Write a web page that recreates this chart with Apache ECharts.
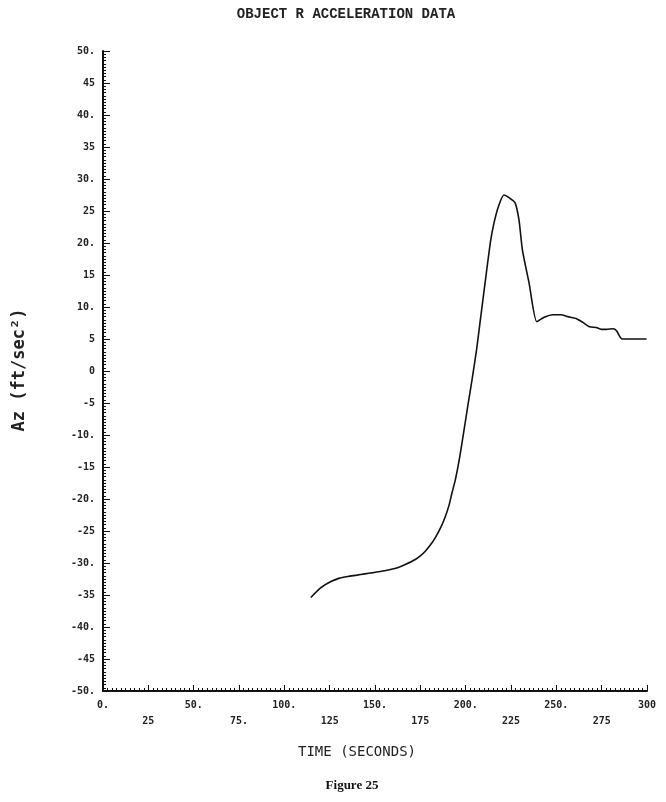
<!DOCTYPE html>
<html><head><meta charset="utf-8">
<script src="https://cdn.jsdelivr.net/npm/echarts@6/dist/echarts.min.js"></script>
<style>html,body{margin:0;padding:0;background:#fff}#c{width:666px;height:802px}</style>
</head><body><div id="c"></div>
<script>
// Data (time in seconds, Az in ft/sec^2)
const timeS = [114.6,120,125.7,130,135,140,144.3,149,153.5,158,162.8,167,172,175,177.6,180.5,183.1,186,188.7,190.8,192.4,194.3,196.5,198.9,201.2,203.5,206,208.1,210.9,213.7,215.6,218.3,221.1,223.9,227.2,229.4,231.3,235,239.2,243.3,248,252.6,256.3,260.9,264.6,268.3,272,274.8,277.6,281.3,283.2,286.3,299.8];
const azVals = [-35.4,-33.9,-32.9,-32.4,-32.1,-31.9,-31.7,-31.5,-31.3,-31.05,-30.7,-30.2,-29.5,-28.9,-28.2,-27.2,-26.1,-24.6,-22.8,-21.0,-19.1,-17.0,-13.8,-9.6,-5.4,-1.4,3.3,8.0,14.2,20.2,23.1,25.9,27.5,27.1,26.3,23.6,18.9,13.7,7.7,8.4,8.8,8.8,8.5,8.2,7.6,6.9,6.8,6.5,6.5,6.6,6.3,5.0,5.0];
const yTickLabels = {50:'50.',45:'45',40:'40.',35:'35',30:'30.',25:'25',20:'20.',15:'15',10:'10.',5:'5',0:'0','-5':'-5','-10':'-10.','-15':'-15','-20':'-20.','-25':'-25','-30':'-30.','-35':'-35','-40':'-40.','-45':'-45','-50':'-50.'};
const xTickLabelsRow1 = {0:'0.',50:'50.',100:'100.',150:'150.',200:'200.',250:'250.',300:'300'};
const xTickLabelsRow2 = {25:'25',75:'75.',125:'125',175:'175',225:'225',275:'275'};
const titleText = 'OBJECT R ACCELERATION DATA';
const xName = 'TIME (SECONDS)';
const yName = 'Az (ft/sec²)';
const caption = 'Figure 25';

const chart = echarts.init(document.getElementById('c'), null, {renderer:'canvas'});
const ink = '#111';
const tickFont = {fontFamily:'DejaVu Sans Mono', fontSize:10, fontWeight:'bold', color:'#222'};
const xCommon = {type:'value', min:0, max:300, interval:25, gridIndex:0, position:'bottom', splitLine:{show:false}};
chart.setOption({
  animation:false,
  backgroundColor:'#fff',
  grid:{left:103, top:51, width:544, height:640, containLabel:false},
  xAxis:[
    Object.assign({}, xCommon, {
      axisLine:{show:true, onZero:false, lineStyle:{color:ink, width:2}},
      axisTick:{show:true, inside:true, length:6, lineStyle:{color:ink, width:1}},
      minorTick:{show:true, splitNumber:10, length:3, lineStyle:{color:ink, width:1}},
      axisLabel:Object.assign({margin:9, formatter:v=> (xTickLabelsRow1[v]!==undefined? xTickLabelsRow1[v] : '')}, tickFont)
    }),
    Object.assign({}, xCommon, {
      axisLine:{show:false, onZero:false}, axisTick:{show:false}, minorTick:{show:false},
      axisLabel:Object.assign({margin:25, formatter:v=> (xTickLabelsRow2[v]!==undefined? xTickLabelsRow2[v] : '')}, tickFont)
    })
  ],
  yAxis:{type:'value', min:-50, max:50, interval:5, splitLine:{show:false},
    axisLine:{show:true, onZero:false, lineStyle:{color:ink, width:2}},
    axisTick:{show:true, inside:true, length:7, lineStyle:{color:ink, width:1}},
    minorTick:{show:true, splitNumber:10, length:3, lineStyle:{color:ink, width:1}},
    axisLabel:Object.assign({margin:8, formatter:v=> (yTickLabels[v]!==undefined? yTickLabels[v] : '')}, tickFont)
  },
  series:[{type:'line', xAxisIndex:0, data:timeS.map((t,i)=>[t, azVals[i]]), showSymbol:false, smooth:0.2,
    lineStyle:{color:ink, width:1.6}}],
  graphic:[
    {type:'text', x:346, y:14, style:{text:titleText, font:'bold 14px "Liberation Mono"', fill:'#222', textAlign:'center', textVerticalAlign:'middle'}},
    {type:'text', x:357, y:752, style:{text:xName, font:'14px "DejaVu Sans Mono"', fill:'#222', textAlign:'center', textVerticalAlign:'middle'}},
    {type:'text', x:352, y:786, style:{text:caption, font:'bold 13px "Liberation Serif"', fill:'#111', textAlign:'center', textVerticalAlign:'middle'}},
    {type:'text', x:20, y:370, rotation:Math.PI/2, style:{text:yName, font:'bold 17px "DejaVu Sans Mono"', fill:'#222', textAlign:'center', textVerticalAlign:'middle'}}
  ]
});
</script></body></html>
